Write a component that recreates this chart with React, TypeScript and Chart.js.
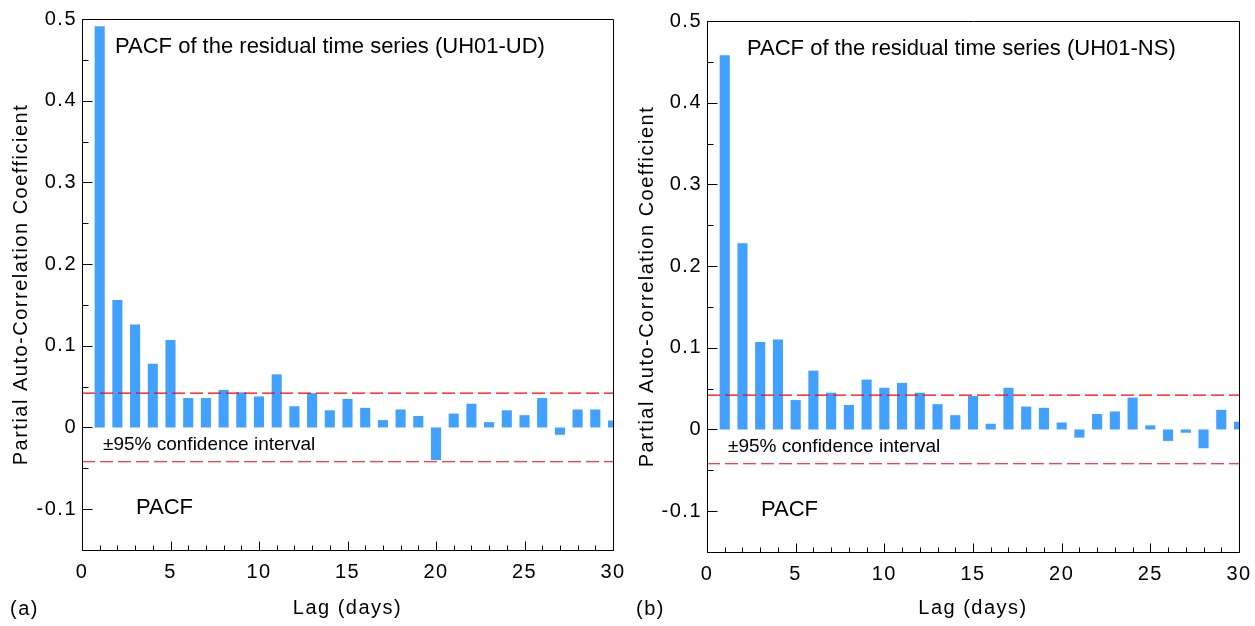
import React, { useEffect, useRef } from 'react';
import { Chart, registerables } from 'chart.js';

Chart.register(...registerables);

// ---------- data ----------
const lags = [1, 2, 3, 4, 5, 6, 7, 8, 9, 10, 11, 12, 13, 14, 15, 16, 17, 18, 19, 20, 21, 22, 23, 24, 25, 26, 27, 28, 29, 30];
const pacfUD = [0.491, 0.156, 0.126, 0.078, 0.107, 0.036, 0.036, 0.046, 0.043, 0.038, 0.065, 0.026, 0.042, 0.021, 0.035, 0.024, 0.009, 0.022, 0.014, -0.040, 0.017, 0.029, 0.0065, 0.021, 0.015, 0.036, -0.009, 0.022, 0.022, 0.0085];
const pacfNS = [0.458, 0.228, 0.107, 0.110, 0.036, 0.072, 0.045, 0.030, 0.061, 0.051, 0.057, 0.045, 0.031, 0.0175, 0.041, 0.007, 0.051, 0.028, 0.0265, 0.0085, -0.010, 0.019, 0.022, 0.039, 0.005, -0.014, -0.004, -0.023, 0.024, 0.0095];
const confBounds = [0.042, -0.042];
const xRange = [0, 30];
const yRange = [-0.15, 0.5];
const xMajorTicks = [0, 5, 10, 15, 20, 25, 30];
const xTickLabels = ['0', '5', '10', '15', '20', '25', '30'];
const xMinorTicks = [1, 2, 3, 4, 6, 7, 8, 9, 11, 12, 13, 14, 16, 17, 18, 19, 21, 22, 23, 24, 26, 27, 28, 29];
const yMajorTicks = [-0.1, 0, 0.1, 0.2, 0.3, 0.4, 0.5];
const yTickLabels = ['-0.1', '0', '0.1', '0.2', '0.3', '0.4', '0.5'];
const yMinorTicks = [-0.15, -0.05, 0.05, 0.15, 0.25, 0.35, 0.45];

const FONT = '"Liberation Sans", Arial, Helvetica, sans-serif';
const BAR_COLOR = '#42a0ff';
const AXIS_FONT_SIZE = 20;
const AXIS_LETTER_SPACING = '1.5px';

type Layout = {
  canvasLeft: number;
  canvasWidth: number;
  yAxisWidth: number;
  padTop: number;
  padRight: number;
  xAxisHeight: number;
  yTitlePad: number;
  titleDx: number;
  titleDy: number;
  letterX: number;
};

type PanelProps = {
  values: number[];
  title: string;
  letter: string;
  layout: Layout;
};

function isIn(list: number[], v: number) {
  return list.some((t) => Math.abs(t - v) < 1e-9);
}

function Panel({ values, title, letter, layout }: PanelProps) {
  const ref = useRef<HTMLCanvasElement | null>(null);

  useEffect(() => {
    const canvas = ref.current;
    if (!canvas) return;

    const decorPlugin = {
      id: 'decor',
      beforeDraw(chart: any) {
        (chart.ctx as any).letterSpacing = AXIS_LETTER_SPACING;
      },
      afterDatasetsDraw(chart: any) {
        const { ctx, chartArea } = chart;
        const xs = chart.scales.x;
        const ys = chart.scales.y;
        ctx.save();
        ctx.strokeStyle = '#000';
        ctx.lineWidth = 1;
        // frame
        ctx.beginPath();
        ctx.rect(Math.round(chartArea.left) + 0.5, Math.round(chartArea.top) + 0.5,
          Math.round(chartArea.right - chartArea.left), Math.round(chartArea.bottom - chartArea.top));
        ctx.stroke();
        // x ticks (inward)
        const bottom = Math.round(chartArea.bottom) + 0.5;
        [...xMajorTicks, ...xMinorTicks].forEach((v) => {
          const px = Math.round(xs.getPixelForValue(v)) + 0.5;
          const len = isIn(xMajorTicks, v) ? 9 : 5;
          ctx.beginPath();
          ctx.moveTo(px, bottom);
          ctx.lineTo(px, bottom - len);
          ctx.stroke();
        });
        // y ticks (inward)
        const left = Math.round(chartArea.left) + 0.5;
        [...yMajorTicks, ...yMinorTicks].forEach((v) => {
          const py = Math.round(ys.getPixelForValue(v)) + 0.5;
          const len = isIn(yMajorTicks, v) ? 10 : 6;
          ctx.beginPath();
          ctx.moveTo(left, py);
          ctx.lineTo(left + len, py);
          ctx.stroke();
        });
        ctx.restore();
      },
      afterDraw(chart: any) {
        const { ctx, chartArea } = chart;
        const ys = chart.scales.y;
        const y0 = ys.getPixelForValue(0);
        ctx.save();
        (ctx as any).letterSpacing = '0px';
        ctx.fillStyle = '#000';
        ctx.textAlign = 'left';
        ctx.textBaseline = 'middle';
        ctx.font = `22px ${FONT}`;
        ctx.fillText(title, chartArea.left + layout.titleDx, chartArea.top + layout.titleDy);
        ctx.font = `19px ${FONT}`;
        ctx.fillText('±95% confidence interval', chartArea.left + 21, y0 + 17.5);
        ctx.font = `22px ${FONT}`;
        ctx.fillText('PACF', chartArea.left + 54, ys.getPixelForValue(-0.098));
        (ctx as any).letterSpacing = AXIS_LETTER_SPACING;
        ctx.font = `${AXIS_FONT_SIZE}px ${FONT}`;
        ctx.fillText(letter, layout.letterX, 609);
        ctx.restore();
      },
    };

    const chart = new Chart(canvas, {
      type: 'bar',
      data: {
        datasets: [
          {
            type: 'bar',
            data: lags.map((x, i) => ({ x, y: values[i] })),
            backgroundColor: BAR_COLOR,
            borderWidth: 0,
            barPercentage: 0.57,
            categoryPercentage: 1,
            order: 2,
          } as any,
          ...confBounds.map((b) => ({
            type: 'line',
            data: [{ x: xRange[0], y: b }, { x: xRange[1], y: b }],
            borderColor: '#ff0000',
            borderWidth: 1.2,
            borderDash: [13, 5],
            pointRadius: 0,
            fill: false,
            order: 1,
          } as any)),
        ],
      },
      options: {
        animation: false,
        responsive: false,
        events: [],
        layout: { padding: { top: layout.padTop, right: layout.padRight, bottom: 0, left: 0 } },
        plugins: { legend: { display: false }, tooltip: { enabled: false }, title: { display: false } },
        scales: {
          x: {
            type: 'linear',
            min: xRange[0],
            max: xRange[1],
            offset: false,
            grid: { display: false, drawTicks: false, offset: false },
            border: { display: false },
            afterBuildTicks: (scale: any) => {
              scale.ticks = xMajorTicks.map((v) => ({ value: v }));
            },
            afterFit: (scale: any) => {
              scale.height = layout.xAxisHeight;
              scale.paddingLeft = 0;
              scale.paddingRight = 0;
            },
            ticks: {
              autoSkip: false,
              maxRotation: 0,
              padding: 10,
              color: '#000',
              font: { family: FONT, size: AXIS_FONT_SIZE },
              callback: (v: any) => {
                const i = xMajorTicks.findIndex((t) => Math.abs(t - Number(v)) < 1e-9);
                return i >= 0 ? xTickLabels[i] : '';
              },
            },
            title: {
              display: true,
              text: 'Lag (days)',
              color: '#000',
              font: { family: FONT, size: AXIS_FONT_SIZE },
              padding: { top: 0, bottom: 6 },
            },
          },
          y: {
            type: 'linear',
            min: yRange[0],
            max: yRange[1],
            grid: { display: false, drawTicks: false },
            border: { display: false },
            afterBuildTicks: (scale: any) => {
              scale.ticks = yMajorTicks.map((v) => ({ value: v }));
            },
            afterFit: (scale: any) => {
              scale.width = layout.yAxisWidth;
              scale.paddingTop = 0;
              scale.paddingBottom = 0;
            },
            ticks: {
              autoSkip: false,
              padding: 5,
              color: '#000',
              font: { family: FONT, size: AXIS_FONT_SIZE },
              callback: (v: any) => {
                const i = yMajorTicks.findIndex((t) => Math.abs(t - Number(v)) < 1e-9);
                return i >= 0 ? yTickLabels[i] : '';
              },
            },
            title: {
              display: true,
              text: 'Partial Auto-Correlation Coefficient',
              color: '#000',
              font: { family: FONT, size: AXIS_FONT_SIZE },
              padding: { top: layout.yTitlePad, bottom: 0 },
            },
          },
        },
      },
      plugins: [decorPlugin],
    } as any);

    return () => chart.destroy();
  }, [values, title, letter, layout]);

  return (
    <canvas
      ref={ref}
      width={layout.canvasWidth}
      height={626}
      style={{ position: 'absolute', left: layout.canvasLeft, top: 0, width: layout.canvasWidth, height: 626 }}
    />
  );
}

const leftLayout: Layout = {
  canvasLeft: 0, canvasWidth: 627, yAxisWidth: 82, padTop: 19, padRight: 14, xAxisHeight: 76,
  yTitlePad: 9, titleDx: 33, titleDy: 28, letterX: 10,
};
const rightLayout: Layout = {
  canvasLeft: 627, canvasWidth: 628, yAxisWidth: 80, padTop: 21, padRight: 16, xAxisHeight: 74,
  yTitlePad: 8, titleDx: 40, titleDy: 28, letterX: 9,
};

export default function App() {
  return (
    <div style={{ position: 'fixed', left: 0, top: 0, width: 1255, height: 626, background: '#fff' }}>
      <Panel values={pacfUD} title="PACF of the residual time series (UH01-UD)" letter="(a)" layout={leftLayout} />
      <Panel values={pacfNS} title="PACF of the residual time series (UH01-NS)" letter="(b)" layout={rightLayout} />
    </div>
  );
}
